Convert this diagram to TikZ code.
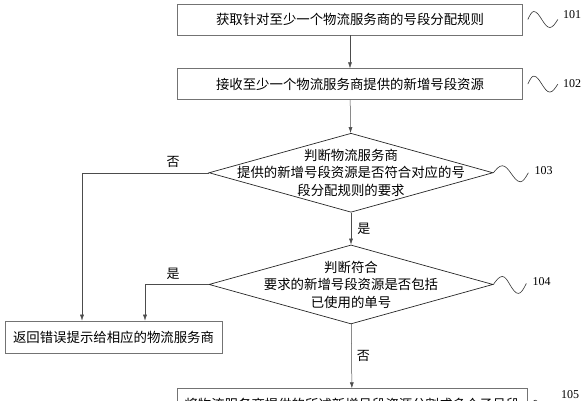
\documentclass[tikz,border=0pt]{standalone}
\usepackage{fontspec}
\setmainfont{Liberation Serif}
\newfontfamily\cjk{Noto Sans CJK SC}
\usepackage{tikz}
\usetikzlibrary{arrows.meta, positioning, shapes.geometric}

\begin{document}
\begin{tikzpicture}[
    x=1pt, y=-1pt,
    node distance=33pt,
    every node/.style={font=\cjk\fontsize{13.4pt}{17.5pt}\selectfont, inner sep=0pt},
    box/.style={draw=black!55, line width=0.6pt, minimum height=31pt, minimum width=345pt, align=center},
    dec/.style={diamond, draw=black!85, line width=0.7pt, minimum width=284pt, minimum height=79pt},
    arrow/.style={-{Latex[length=6pt, width=4pt]}, draw=black!70, line width=0.5pt},
    wave/.style={draw=black!80, line width=0.6pt},
    num/.style={font=\fontsize{12pt}{14pt}\selectfont},
    yn/.style={font=\cjk\fontsize{13pt}{15pt}\selectfont},
]
\useasboundingbox (0,0) rectangle (586,400);
\clip (0,0) rectangle (586,400);

% === MAIN COLUMN ===
\node[box] (b101) at (350,19.5) {获取针对至少一个物流服务商的号段分配规则};
\node[box, below=of b101] (b102) {接收至少一个物流服务商提供的新增号段资源};
\node[dec, below=of b102, xshift=1pt] (d103) {};
\node[align=center] (t103) at (d103) {判断物流服务商\\提供的新增号段资源是否符合对应的号\\段分配规则的要求};
\node[dec, below=32pt of d103] (d104) {};
\node[align=center] (t104) at (d104) {判断符合\\要求的新增号段资源是否包括\\已使用的单号};
\node[box, minimum width=350pt, below=64pt of d104, xshift=1pt] (b105) {将物流服务商提供的所述新增号段资源分割成多个子号段};

% === ERROR BRANCH ===
\node[box, minimum width=217pt, minimum height=32pt] (ret) at (113.5,337) {返回错误提示给相应的物流服务商};

\draw[arrow] (b101) -- (b102);
\draw[arrow] (b102) -- (d103);
\draw[arrow] (d103) -- node[yn, right=6pt] {是} (d104);
\draw[arrow] (d104) -- node[yn, right=5pt] {否} (b105);
\draw[arrow] (d103.west) -| node[yn, above=5pt, pos=0.14] {否} ([xshift=-31.5pt]ret.north);
\draw[arrow] (d104.west) -| node[yn, above=5pt, pos=0.28] {是} ([xshift=31.5pt]ret.north);

% === STEP NUMBERS ===
\draw[wave] ([xshift=5pt]b101.east) sin ++(6,-8) cos ++(8,8) sin ++(8,8) cos ++(8,-8) coordinate (w101);
\node[num, anchor=south west] (n101) at ([xshift=5pt,yshift=1pt]w101) {101};
\draw[wave] ([xshift=5pt]b102.east) sin ++(6,-8) cos ++(8,8) sin ++(8,8) cos ++(8,-8) coordinate (w102);
\node[num, anchor=south west] (n102) at ([xshift=5pt,yshift=-4pt]w102) {102};
\draw[wave] (d103.east) sin ++(9,-7) cos ++(9,8) sin ++(9,8) cos ++(8,-9) coordinate (w103);
\node[num, anchor=south west] (n103) at ([xshift=6pt,yshift=-2pt]w103) {103};
\draw[wave] (d104.east) sin ++(9,-8) cos ++(8,9) sin ++(8,8) cos ++(8,-10) coordinate (w104);
\node[num, anchor=south west] (n104) at ([xshift=6pt,yshift=-2pt]w104) {104};
\draw[wave] ([xshift=4pt]b105.east) sin ++(4,-4) cos ++(4,4) coordinate (w105);
\node[num] (n105) at (570,395) {105};

\end{tikzpicture}
\end{document}
